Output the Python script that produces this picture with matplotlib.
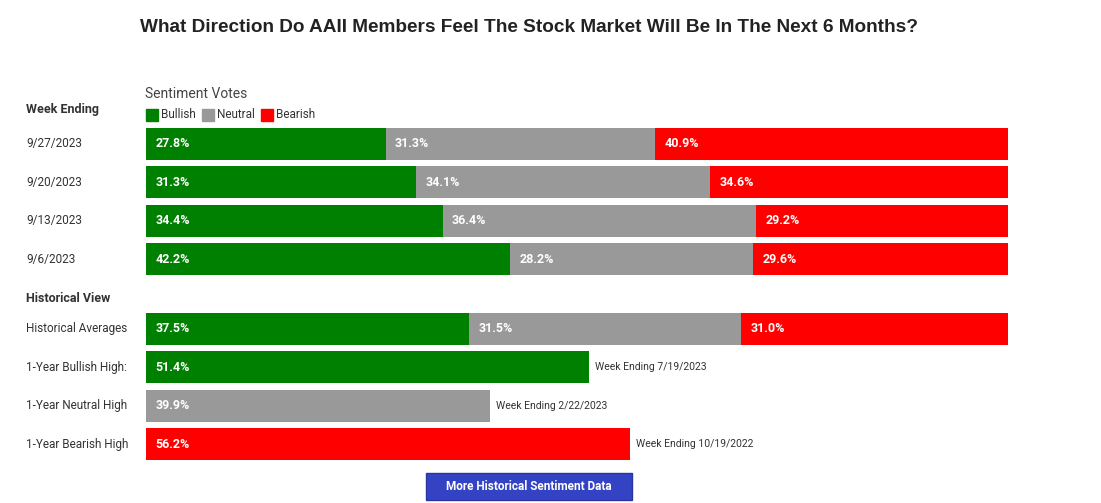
import matplotlib
matplotlib.use('Agg')
import matplotlib.pyplot as plt
from matplotlib.patches import Rectangle

# data
weeks = ['9/27/2023', '9/20/2023', '9/13/2023', '9/6/2023']
bullish = [27.8, 31.3, 34.4, 42.2]
neutral = [31.3, 34.1, 36.4, 28.2]
bearish = [40.9, 34.6, 29.2, 29.6]

hist_label = 'Historical Averages'
hist_avg = [37.5, 31.5, 31.0]

high_labels = ['1-Year Bullish High:', '1-Year Neutral High', '1-Year Bearish High']
high_values = [51.4, 39.9, 56.2]
high_weeks = ['7/19/2023', '2/22/2023', '10/19/2022']

GREEN = '#008000'
GRAY = '#999999'
RED = '#ff0000'
TXT = '#333333'

W, H = 1101, 503
fig = plt.figure(figsize=(W / 100, H / 100), dpi=100)

def fx(px):
    return px / W

def fy(py):
    return 1 - py / H

# bar axes, x in percent
rows_week = [0, 1, 2, 3]
row_hist = 4.8
rows_high = [5.8, 6.8, 7.8]
top_px, bot_px = 124.75, 463.25
ax = fig.add_axes([fx(146), fy(bot_px), fx(1008) - fx(146), (bot_px - top_px) / H])
ax.set_xlim(0, 100)
ax.set_ylim(8.3, -0.5)
ax.axis('off')

bh = 0.83
lab_font = dict(color='white', fontsize=9, fontweight='bold', family='Roboto', va='center')

for i, y in enumerate(rows_week):
    segs = [(bullish[i], GREEN), (neutral[i], GRAY), (bearish[i], RED)]
    left = 0
    for v, c in segs:
        ax.barh(y, v, left=left, height=bh, color=c)
        ax.text(left + 1.1, y, f'{v:.1f}%', **lab_font)
        left += v

left = 0
for v, c in zip(hist_avg, [GREEN, GRAY, RED]):
    ax.barh(row_hist, v, left=left, height=bh, color=c)
    ax.text(left + 1.1, row_hist, f'{v:.1f}%', **lab_font)
    left += v

for y, v, c, wk in zip(rows_high, high_values, [GREEN, GRAY, RED], high_weeks):
    ax.barh(y, v, height=bh, color=c)
    ax.text(1.1, y, f'{v:.1f}%', **lab_font)
    ax.text(v + 0.7, y, f'Week Ending {wk}', color=TXT, fontsize=7.5,
            family='Roboto', va='center')

# row labels on the left
lx = -(146 - 26) / 862 * 100
for y, lab in zip(rows_week, weeks):
    ax.text(lx, y, lab, color=TXT, fontsize=8.5, family='Roboto', va='center', clip_on=False)
ax.text(lx, row_hist, hist_label, color=TXT, fontsize=8.5,
        family='Roboto', va='center', clip_on=False)
for y, lab in zip(rows_high, high_labels):
    ax.text(lx, y, lab, color=TXT, fontsize=8.5, family='Roboto', va='center', clip_on=False)

# headings
fig.text(fx(529), fy(27), 'What Direction Do AAII Members Feel The Stock Market Will Be In The Next 6 Months?',
         ha='center', va='center', fontsize=13.7, fontweight='bold', family='Liberation Sans', color='#222222')
fig.text(fx(26), fy(109), 'Week Ending', fontsize=9, fontweight='bold', family='Roboto',
         color=TXT, va='center')
fig.text(fx(26), fy(298), 'Historical View', fontsize=9, fontweight='bold', family='Roboto',
         color=TXT, va='center')
fig.text(fx(145), fy(94), 'Sentiment Votes', fontsize=10, family='Roboto', color='#444444', va='center')

# legend
leg_items = [('Bullish', GREEN, 146), ('Neutral', GRAY, 202), ('Bearish', RED, 261)]
for name, c, x0 in leg_items:
    fig.patches.append(Rectangle((fx(x0), fy(121)), fx(12), 12 / H, color=c,
                                 transform=fig.transFigure))
    fig.text(fx(x0 + 15), fy(115), name, fontsize=8.5, family='Roboto', color=TXT, va='center')

# button
fig.patches.append(Rectangle((fx(426), fy(500)), fx(632 - 426), 27 / H, facecolor='#3443c3',
                             edgecolor='#2a36a0', transform=fig.transFigure))
fig.text(fx(529), fy(487), 'More Historical Sentiment Data', ha='center', va='center',
         fontsize=8.5, fontweight='bold', family='Roboto', color='white')

fig.savefig('out.png', dpi=100)
